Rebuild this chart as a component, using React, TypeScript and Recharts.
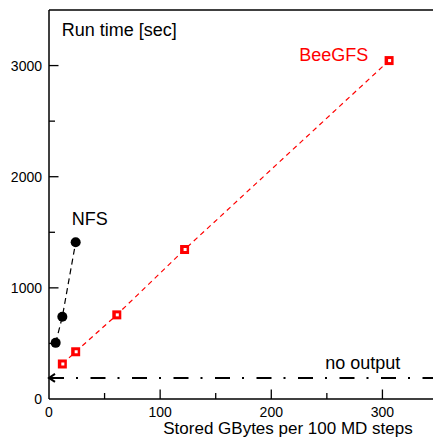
import React from "react";
import {
  ComposedChart,
  Scatter,
  XAxis,
  YAxis,
  ReferenceLine,
  ReferenceDot,
} from "recharts";

// NFS runs (GBytes per 100 steps, run time in sec)
const nfsGB = [6, 12, 24];
const nfsTime = [505, 740, 1410];

// BeeGFS runs
const beeGB = [12, 24, 61, 122, 306];
const beeTime = [315, 425, 757, 1345, 3045];

// run time without any output
const noOutputTime = 190;

const xTicks = [0, 50, 100, 150, 200, 250, 300, 350];
const yTicks = [0, 500, 1000, 1500, 2000, 2500, 3000, 3500];

const nfs = nfsGB.map((x, i) => ({ x, y: nfsTime[i] }));
const bee = beeGB.map((x, i) => ({ x, y: beeTime[i] }));

const FONT = "'Liberation Sans', Arial, sans-serif";

const Dot = ({ cx, cy }: any) => <circle cx={cx} cy={cy} r={5} fill="#000" />;

const Square = ({ cx, cy }: any) => (
  <g>
    <rect x={cx - 4.5} y={cy - 4.5} width={9} height={9} fill="#ff0000" />
    <rect x={cx - 1} y={cy - 1.5} width={3} height={3} fill="#fff" />
  </g>
);

const YTick = ({ x, y, payload }: any) => {
  const ax = x + 7;
  const major = payload.value % 1000 === 0;
  return (
    <g>
      {payload.value !== 0 && payload.value !== 3500 && (
        <line x1={ax} x2={ax + (major ? 9.5 : 6)} y1={y} y2={y} stroke="#000" strokeWidth={1.3} />
      )}
      {major && (
        <text x={x} y={y + 5} textAnchor="end" fontSize={14} fill="#000" fontFamily={FONT}>
          {payload.value}
        </text>
      )}
    </g>
  );
};

const XTick = ({ x, y, payload }: any) => {
  const major = payload.value % 100 === 0;
  return (
    <g>
      {payload.value !== 0 && (
        <line x1={x} x2={x} y1={y} y2={y - (major ? 9.5 : 6)} stroke="#000" strokeWidth={1.3} />
      )}
      {major && (
        <text x={x} y={y + 18} textAnchor="middle" fontSize={14} fill="#000" fontFamily={FONT}>
          {payload.value}
        </text>
      )}
    </g>
  );
};

const textShape = (label: string, color: string) => ({ cx, cy }: any) => (
  <text x={cx} y={cy} fontSize={18} fill={color} fontFamily={FONT}>
    {label}
  </text>
);

const NoOutputArrow = ({ viewBox }: any) => {
  const { x, y } = viewBox;
  return (
    <polyline
      points={`${x + 6},${y - 4} ${x},${y} ${x + 6},${y + 4}`}
      fill="none"
      stroke="#000"
      strokeWidth={2}
    />
  );
};

export default function App() {
  return (
    <div
      style={{
        position: "absolute",
        left: 0,
        top: 0,
        width: 433,
        height: 438,
        overflow: "hidden",
        background: "#fff",
      }}
    >
      <ComposedChart
        width={438}
        height={438}
        margin={{ top: 10, right: 0, bottom: 0, left: 0 }}
        style={{ fontFamily: FONT }}
      >
        <XAxis
          type="number"
          dataKey="x"
          domain={[0, 350]}
          ticks={xTicks}
          interval={0}
          height={39}
          tickSize={0}
          tickMargin={0}
          tickLine={false}
          tick={<XTick />}
          axisLine={{ stroke: "#000", strokeWidth: 1.5 }}
          allowDataOverflow
          label={({ viewBox }: any) => (
            <text x={viewBox.x + 239} y={viewBox.y + 35} textAnchor="middle" fontSize={17} fill="#000" fontFamily={FONT}>
              Stored GBytes per 100 MD steps
            </text>
          )}
        />
        <YAxis
          type="number"
          dataKey="y"
          domain={[0, 3500]}
          ticks={yTicks}
          interval={0}
          width={49}
          tickSize={0}
          tickMargin={7}
          tickLine={false}
          tick={<YTick />}
          axisLine={{ stroke: "#000", strokeWidth: 1.5 }}
          allowDataOverflow
        />
        <ReferenceLine y={3500} stroke="#000" strokeWidth={1.5} />
        <ReferenceLine
          y={noOutputTime}
          stroke="#000"
          strokeWidth={2}
          strokeDasharray="15 12 2 12.5"
          label={<NoOutputArrow />}
        />
        <Scatter
          data={nfs}
          line={{ stroke: "#000", strokeWidth: 1.2, strokeDasharray: "6 4" }}
          lineType="joint"
          shape={<Dot />}
          isAnimationActive={false}
        />
        <Scatter
          data={bee}
          line={{ stroke: "#ff0000", strokeWidth: 1.2, strokeDasharray: "5 4" }}
          lineType="joint"
          shape={<Square />}
          isAnimationActive={false}
        />
        <ReferenceDot x={11.5} y={3265} r={0} shape={textShape("Run time [sec]", "#000")} />
        <ReferenceDot x={20.5} y={1565} r={0} shape={textShape("NFS", "#000")} />
        <ReferenceDot x={225.2} y={3041} r={0} shape={textShape("BeeGFS", "#ff0000")} />
        <ReferenceDot x={248.6} y={267} r={0} shape={textShape("no output", "#000")} />
      </ComposedChart>
    </div>
  );
}
